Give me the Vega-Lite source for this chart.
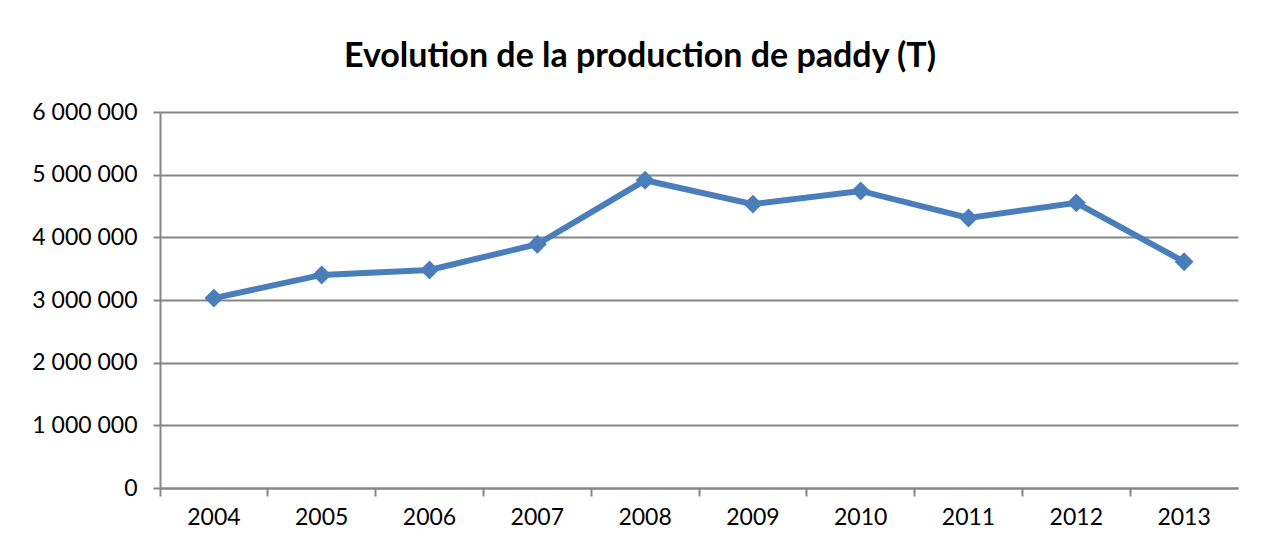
{
  "$schema": "https://vega.github.io/schema/vega-lite/v6.json",
  "width": 1078,
  "height": 376,
  "autosize": {"type": "none"},
  "padding": {"left": 160, "top": 112, "right": 26, "bottom": 62},
  "background": "white",
  "title": {
    "text": "Evolution de la production de paddy (T)",
    "font": "Lato",
    "fontSize": 34,
    "fontWeight": "bold",
    "color": "#000000",
    "anchor": "middle",
    "baseline": "alphabetic",
    "offset": 0,
    "dx": -59
  },
  "data": {
    "values": [
      {"annee": "2004", "production": 3030000},
      {"annee": "2005", "production": 3400000},
      {"annee": "2006", "production": 3480000},
      {"annee": "2007", "production": 3890000},
      {"annee": "2008", "production": 4910000},
      {"annee": "2009", "production": 4530000},
      {"annee": "2010", "production": 4740000},
      {"annee": "2011", "production": 4310000},
      {"annee": "2012", "production": 4550000},
      {"annee": "2013", "production": 3610000}
    ]
  },
  "encoding": {
    "x": {
      "field": "annee",
      "type": "ordinal",
      "scale": {"type": "band", "paddingInner": 0, "paddingOuter": 0},
      "axis": {
        "title": null,
        "labelAngle": 0,
        "bandPosition": 0,
        "labelFont": "Lato",
        "labelFontSize": 23,
        "labelColor": "#000000",
        "labelPadding": 10,
        "tickSize": 8,
        "tickColor": "#868686",
        "tickWidth": 2,
        "domainColor": "#868686",
        "domainWidth": 2,
        "grid": false
      }
    },
    "y": {
      "field": "production",
      "type": "quantitative",
      "scale": {"domain": [0, 6000000], "nice": false},
      "axis": {
        "title": null,
        "values": [0, 1000000, 2000000, 3000000, 4000000, 5000000, 6000000],
        "labelExpr": "replace(format(datum.value, ','), /,/g, ' ')",
        "labelFont": "Lato",
        "labelFontSize": 23,
        "labelColor": "#000000",
        "labelPadding": 16,
        "tickSize": 7,
        "tickColor": "#868686",
        "tickWidth": 2,
        "domainColor": "#868686",
        "domainWidth": 2,
        "grid": true,
        "gridColor": "#868686",
        "gridWidth": 2
      }
    }
  },
  "layer": [
    {
      "mark": {"type": "line", "color": "#4a7ebb", "strokeWidth": 6},
      "encoding": {}
    },
    {
      "mark": {"type": "point", "shape": "diamond", "filled": true, "color": "#4a7ebb", "size": 360, "opacity": 1},
      "encoding": {}
    }
  ],
  "config": {
    "view": {"stroke": null}
  }
}
